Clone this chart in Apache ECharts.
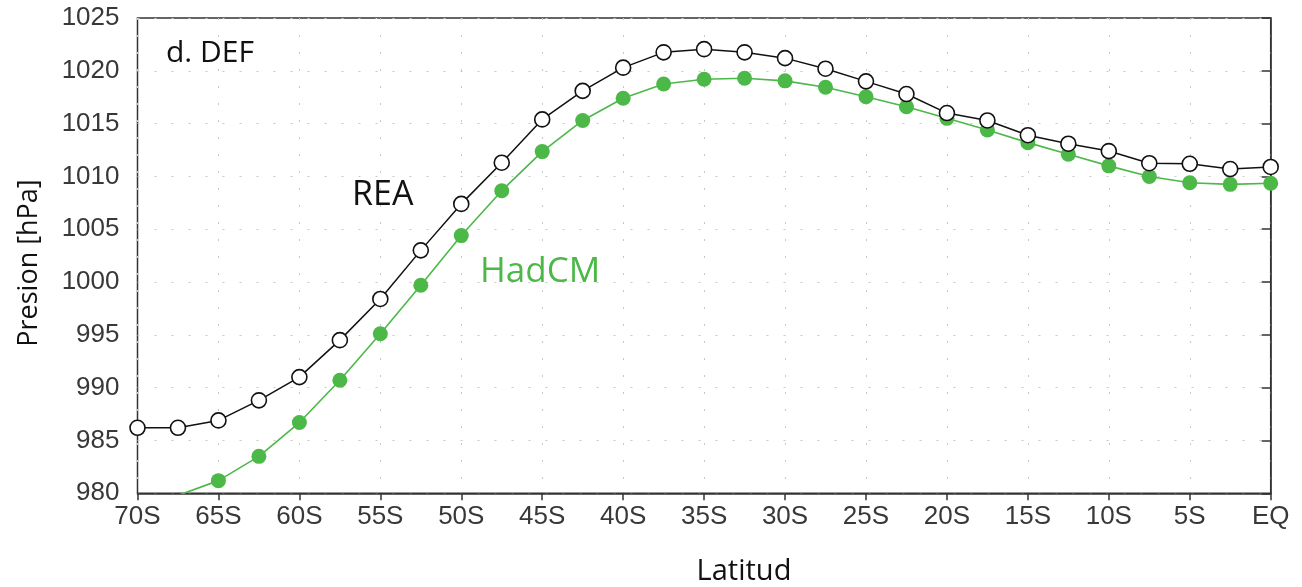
<!DOCTYPE html>
<html>
<head>
<meta charset="utf-8">
<script src="https://cdn.jsdelivr.net/npm/echarts@6/dist/echarts.min.js"></script>
<style>
html,body{margin:0;padding:0;background:#fff;}
#chart{width:1302px;height:587px;}
</style>
</head>
<body>
<div id="chart"></div>
<script>
// Latitudes (negative = South)
const latitudes = [-70, -67.5, -65, -62.5, -60, -57.5, -55, -52.5, -50, -47.5, -45, -42.5, -40, -37.5, -35, -32.5, -30, -27.5, -25, -22.5, -20, -17.5, -15, -12.5, -10, -7.5, -5, -2.5, 0];
// Pressure [hPa]
const reaValues = [986.2, 986.2, 986.9, 988.8, 991.0, 994.5, 998.4, 1003.0, 1007.4, 1011.3, 1015.4, 1018.1, 1020.3, 1021.75, 1022.05, 1021.75, 1021.2, 1020.2, 1019.0, 1017.8, 1016.0, 1015.3, 1013.9, 1013.1, 1012.4, 1011.25, 1011.2, 1010.7, 1010.9];
const hadcmValues = [979.6, 979.8, 981.2, 983.5, 986.7, 990.7, 995.1, 999.7, 1004.4, 1008.65, 1012.35, 1015.3, 1017.4, 1018.75, 1019.2, 1019.3, 1019.05, 1018.45, 1017.55, 1016.6, 1015.5, 1014.4, 1013.2, 1012.1, 1011.0, 1010.0, 1009.4, 1009.25, 1009.35];
// Tick labels
const xTickValues = [-70, -65, -60, -55, -50, -45, -40, -35, -30, -25, -20, -15, -10, -5, 0];
const xTickLabels = ['70S', '65S', '60S', '55S', '50S', '45S', '40S', '35S', '30S', '25S', '20S', '15S', '10S', '5S', 'EQ'];
const yTickLabels = ['980', '985', '990', '995', '1000', '1005', '1010', '1015', '1020', '1025'];

const reaData = latitudes.map((lat, i) => [lat, reaValues[i]]);
const hadcmData = latitudes.map((lat, i) => [lat, hadcmValues[i]]);

const chart = echarts.init(document.getElementById('chart'), null, {renderer: 'canvas'});
const tickFont = {fontFamily: 'Liberation Sans', fontSize: 26, color: '#383838'};
const greenColor = '#4cb848';

chart.setOption({
  animation: false,
  backgroundColor: '#fff',
  grid: {
    left: 137.5, right: 31.3, top: 18, bottom: 93.7,
    show: true, borderColor: '#333', borderWidth: 1.5, backgroundColor: 'transparent'
  },
  xAxis: {
    type: 'value', min: -70, max: 0, interval: 5,
    axisLine: {show: true, lineStyle: {color: '#333', width: 1.5}},
    axisTick: {show: true, length: 7, lineStyle: {color: '#333', width: 1.5}},
    axisLabel: Object.assign({
      margin: 11,
      formatter: v => {
        const idx = xTickValues.indexOf(v);
        return idx >= 0 ? xTickLabels[idx] : '';
      }
    }, tickFont),
    splitLine: {show: true, lineStyle: {color: '#c8c8c8', width: 1, type: [2, 15]}}
  },
  yAxis: {
    type: 'value', min: 980, max: 1025, interval: 5,
    axisLine: {show: true, lineStyle: {color: '#333', width: 1.5}},
    axisTick: {show: true, length: 9, lineStyle: {color: '#333', width: 1.5}},
    axisLabel: Object.assign({
      margin: 18,
      formatter: v => {
        const idx = Math.round((v - 980) / 5);
        return yTickLabels[idx] !== undefined ? yTickLabels[idx] : '';
      }
    }, tickFont),
    splitLine: {show: true, lineStyle: {color: '#c8c8c8', width: 1, type: [2, 15]}}
  },
  series: [
    {
      name: 'HadCM', type: 'line', data: hadcmData, clip: true,
      symbol: 'circle', symbolSize: 15, showAllSymbol: true,
      lineStyle: {color: greenColor, width: 1.6},
      itemStyle: {color: greenColor, borderColor: greenColor, borderWidth: 0},
      z: 2
    },
    {
      name: 'REA', type: 'line', data: reaData, clip: true,
      symbol: 'circle', symbolSize: 15, showAllSymbol: true,
      lineStyle: {color: '#111', width: 1.5},
      itemStyle: {color: '#fff', borderColor: '#111', borderWidth: 1.6},
      z: 3
    }
  ],
  graphic: [
    {type: 'text', x: 166, y: 53, z: 10,
     style: {text: 'd. DEF', fontFamily: 'Open Sans', fontSize: 30, fill: '#111', align: 'left', verticalAlign: 'middle'}},
    {type: 'text', x: 352, y: 195, z: 10,
     style: {text: 'REA', fontFamily: 'Open Sans', fontSize: 34, fill: '#111', align: 'left', verticalAlign: 'middle'}},
    {type: 'text', x: 480, y: 272, z: 10,
     style: {text: 'HadCM', fontFamily: 'Open Sans', fontSize: 35, fill: greenColor, align: 'left', verticalAlign: 'middle'}},
    {type: 'text', x: 744, y: 572, z: 10,
     style: {text: 'Latitud', fontFamily: 'Open Sans', fontSize: 29, fill: '#111', align: 'center', verticalAlign: 'middle'}},
    {type: 'text', x: 29, y: 263, rotation: Math.PI / 2, z: 10,
     style: {text: 'Presion [hPa]', fontFamily: 'Open Sans', fontSize: 27, fill: '#111', align: 'center', verticalAlign: 'middle'}}
  ]
});
</script>
</body>
</html>
